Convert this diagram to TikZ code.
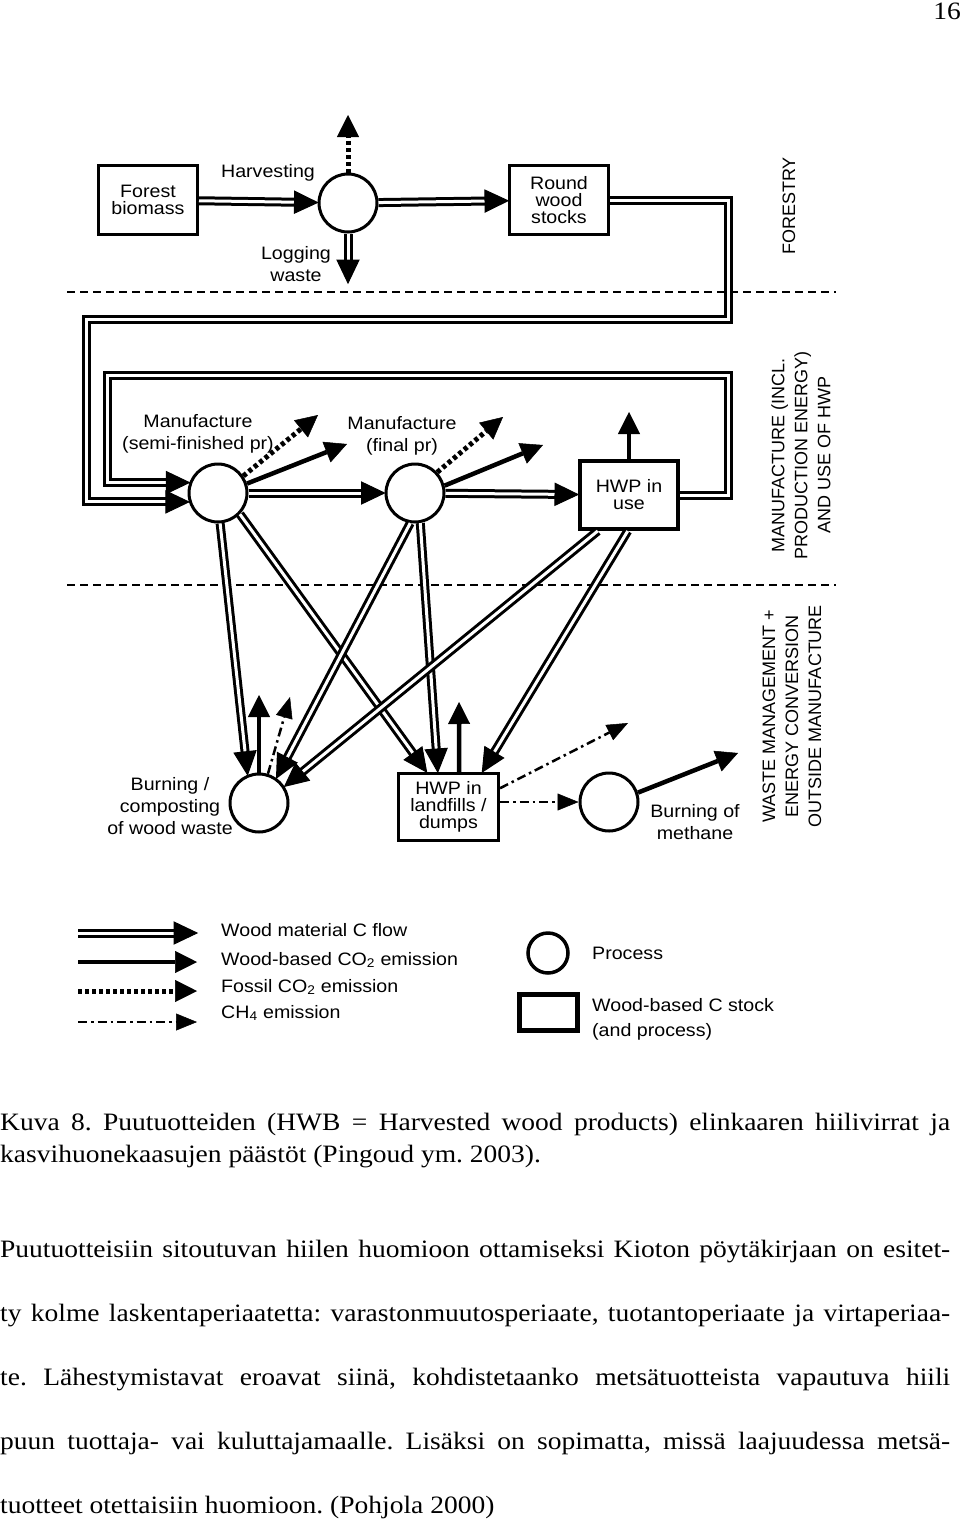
\documentclass[tikz,border=0pt]{standalone}
\usepackage{fontspec}
\setmainfont{Liberation Serif}[FakeStretch=1.1]
\newfontfamily\diagfont{Liberation Sans}[FakeStretch=1.09]
\newfontfamily\sidefont{Liberation Sans}
\usetikzlibrary{arrows.meta,calc,decorations.markings,positioning}
\frenchspacing

\begin{document}
\begin{tikzpicture}[x=1pt,y=-1pt,
    lbl/.style={font=\diagfont\fontsize{18pt}{22pt}\selectfont, align=center, inner sep=0pt},
    leglbl/.style={font=\diagfont\fontsize{18pt}{25pt}\selectfont, align=left, inner sep=0pt, anchor=west},
    sidelbl/.style={font=\sidefont\fontsize{18pt}{23pt}\selectfont, align=center, inner sep=0pt, rotate=90},
    process/.style={circle, draw, line width=3pt, minimum size=58pt, inner sep=0pt},
    stock/.style={rectangle, draw, line width=3pt, minimum width=99pt, minimum height=69pt, inner sep=0pt,
        font=\diagfont\fontsize{18pt}{17pt}\selectfont, align=center},
    woodflow/.style={draw, line width=3pt, double=white, double distance=3pt, shorten >=17pt,
        postaction={decorate, decoration={markings,
            mark=at position 1 with {\filldraw[line width=1pt, solid] (0pt,0pt) -- (-23pt,11pt) -- (-23pt,-11pt) -- cycle;}}}},
    woodco2/.style={draw, line width=4.5pt, -{Triangle[length=22pt,width=22pt,line width=0.5pt]}},
    fossilco2/.style={draw, line width=5pt, dash pattern=on 4pt off 3pt, -{Triangle[length=22pt,width=22pt,line width=0.5pt]}},
    chemission/.style={draw, line width=2.5pt, dash pattern=on 9pt off 4pt on 2.5pt off 4pt, -{Triangle[length=21pt,width=17pt,line width=0.5pt]}},
    sector/.style={line width=2pt, dash pattern=on 8pt off 5pt},
    bodytext/.style={font=\fontsize{25pt}{30pt}\selectfont, inner sep=0pt, anchor=base west}
]
\fill[white] (0,0) rectangle (960,1520);
\useasboundingbox (0,0) rectangle (960,1520);

% Sector borders
\draw[sector] (67,292) -- (836,292);
\draw[sector] (67,585) -- (836,585);

% Forestry
\node[stock] (forest) at (148,200) {Forest\\biomass};
\node[process] (harv) at (348,203) {};
\node[stock] (round) at (559,200) {Round\\wood\\stocks};
\node[lbl] (harvlbl) at (268,173) {Harvesting};
\node[lbl] (loglbl) at (296,264) {Logging\\waste};
\coordinate (harvtop) at (348,115);
\coordinate (logend) at (348,283);
\coordinate (rwcorner) at (728,319);
\coordinate (usecorner) at (728,375);

\draw[woodflow] (forest) -- (harv);
\draw[woodflow] (harv) -- (round);
\draw[fossilco2] (harv) -- (harvtop);
\draw[woodflow] (harv) -- (logend);

% Manufacture and use
\node[process] (semi) at (218,493) {};
\node[process] (final) at (415,493) {};
\node[stock, line width=4pt, minimum width=98pt, minimum height=68pt] (inuse) at (629,495) {HWP in\\use};
\node[lbl] (semilbl) at (198,434) {Manufacture\\(semi-finished pr)};
\node[lbl] (finallbl) at (402,436) {Manufacture\\(final pr)};

% The two feedback loops into the semi-finished manufacture
\draw[woodflow] (round.east) -| (rwcorner) -| ($(semi.197)+(-102,0)$) -- (semi.197);
\draw[woodflow] (inuse.east) -| (usecorner) -| ($(semi.160)+(-82,0)$) -- (semi.160);
\draw[woodflow] (semi) -- (final);
\draw[woodflow] (final) -- (inuse);

% Emissions of manufacture
\coordinate (semifos) at (318,415);
\coordinate (semico) at (347,444);
\coordinate (finalfos) at (503,417);
\coordinate (finalco) at (543,445);
\coordinate (usetop) at (629,412);
\draw[fossilco2] (semi.34) -- (semifos);
\draw[woodco2] (semi.18) -- (semico);
\draw[fossilco2] (final.43) -- (finalfos);
\draw[woodco2] (final.14) -- (finalco);
\draw[woodco2] (inuse) -- (usetop);

% Waste management
\node[process] (burn) at (259,803) {};
\node[stock, minimum width=100pt, minimum height=67pt] (landfill) at (448.5,807) {HWP in\\landfills /\\dumps};
\node[process] (methane) at (609,802) {};
\node[lbl] (burnlbl) at (170,806) {Burning /\\composting\\of wood waste};
\node[lbl] (methlbl) at (695,822) {Burning of\\methane};

\draw[woodflow] (semi.-86) -- (burn.112);
\draw[woodflow] (semi.-44) -- (landfill.122);
\draw[woodflow] (final.-99) -- (burn.55);
\draw[woodflow] (final.-80) -- (landfill.107);
\draw[woodflow] (inuse.229) -- (burn.33);
\draw[woodflow] (inuse.268) -- (landfill.46);

\coordinate (burnco) at (259,695);
\coordinate (burnch) at (290,697);
\coordinate (landco) at (459,702);
\coordinate (landch) at (628,723);
\coordinate (methco) at (738,753);
\draw[woodco2] (burn) -- (burnco);
\draw[chemission] (burn.73) -- (burnch);
\draw[woodco2] (landfill.73) -- (landco);
\draw[chemission] (landfill.20) -- (landch);
\draw[chemission] (landfill.east |- methane) -- (methane);
\draw[woodco2] (methane.18) -- (methco);

% Sector names
\node[sidelbl] (forestry) at (789,206) {FORESTRY};
\node[sidelbl] (manuflbl) at (801,455) {MANUFACTURE (INCL.\\PRODUCTION ENERGY)\\AND USE OF HWP};
\node[sidelbl] (wastelbl) at (792,716) {WASTE MANAGEMENT +\\ENERGY CONVERSION\\OUTSIDE MANUFACTURE};

% Legend
\coordinate (ls1) at (78,933);   \coordinate (le1) at (197,933);
\coordinate (ls2) at (78,962);   \coordinate (le2) at (197,962);
\coordinate (ls3) at (78,991);   \coordinate (le3) at (197,991);
\coordinate (ls4) at (78,1022);  \coordinate (le4) at (197,1022);
\draw[woodflow] (ls1) -- (le1);
\draw[woodco2] (ls2) -- (le2);
\draw[fossilco2] (ls3) -- (le3);
\draw[chemission] (ls4) -- (le4);
\node[leglbl] (legwood) at (221,930) {Wood material C flow};
\node[leglbl] (legco) at (221,960) {Wood-based CO\textsubscript{2} emission};
\node[leglbl] (legfos) at (221,987) {Fossil CO\textsubscript{2} emission};
\node[leglbl] (legch) at (221,1013) {CH\textsubscript{4} emission};
\node[process, minimum size=40pt, line width=3.5pt] (legproc) at (548,953) {};
\node[leglbl] (legproclbl) at (592,953) {Process};
\node[stock, line width=5pt, minimum width=58pt, minimum height=36pt] (legstock) at (548.5,1012.5) {};
\node[leglbl] (legstocklbl) at (592,1019.5) {Wood-based C stock\\(and process)};

% Page text
\node[bodytext, anchor=base east] (pagenum) at (961,20) {16};
\node[bodytext] (cap1) at (0,1130) {\makebox[950pt][s]{Kuva 8. Puutuotteiden (HWB = Harvested wood products) elinkaaren hiilivirrat ja}};
\node[bodytext] (cap2) at (0,1162) {kasvihuonekaasujen päästöt (Pingoud ym. 2003).};
\node[bodytext] (par1) at (0,1257) {\makebox[950pt][s]{Puutuotteisiin sitoutuvan hiilen huomioon ottamiseksi Kioton pöytäkirjaan on esitet-}};
\node[bodytext] (par2) at (0,1321) {\makebox[950pt][s]{ty kolme laskentaperiaatetta: varastonmuutosperiaate, tuotantoperiaate ja virtaperiaa-}};
\node[bodytext] (par3) at (0,1385) {\makebox[950pt][s]{te. Lähestymistavat eroavat siinä, kohdistetaanko metsätuotteista vapautuva hiili}};
\node[bodytext] (par4) at (0,1449) {\makebox[950pt][s]{puun tuottaja- vai kuluttajamaalle. Lisäksi on sopimatta, missä laajuudessa metsä-}};
\node[bodytext] (par5) at (0,1513) {tuotteet otettaisiin huomioon. (Pohjola 2000)};
\end{tikzpicture}
\end{document}
